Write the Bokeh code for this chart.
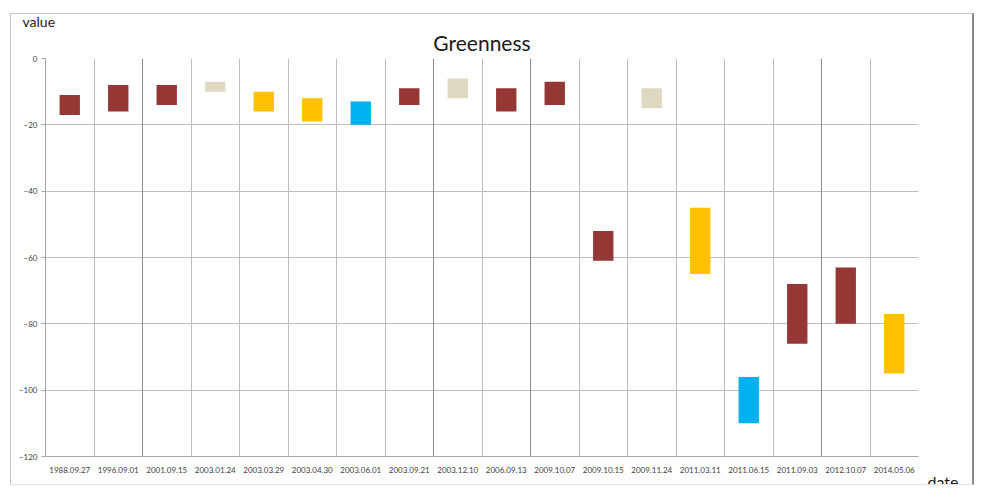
import numpy as np
from bokeh.plotting import figure
from bokeh.models import FixedTicker, Grid, Title, ColumnDataSource, Range1d
from bokeh.embed import file_html
from bokeh.resources import INLINE

dates = ["1988.09.27", "1996.09.01", "2001.09.15", "2003.01.24", "2003.03.29",
         "2003.04.30", "2003.06.01", "2003.09.21", "2003.12.10", "2006.09.13",
         "2009.10.07", "2009.10.15", "2009.11.24", "2011.03.11", "2011.06.15",
         "2011.09.03", "2012.10.07", "2014.05.06"]
top_vals = [-11, -8, -8, -7, -10, -12, -13, -9, -6, -9, -7, -52, -9, -45, -96, -68, -63, -77]
bottom_vals = [-17, -16, -14, -10, -16, -19, -20, -14, -12, -16, -14, -61, -15, -65, -110, -86, -80, -95]
kinds = ["red", "red", "red", "beige", "yellow", "yellow", "blue", "red", "beige", "red",
         "red", "red", "beige", "yellow", "blue", "red", "red", "yellow"]
y_ticks = [-120, -100, -80, -60, -40, -20, 0]

palette = {"red": "#953735", "yellow": "#FFC000", "blue": "#00B0F0", "beige": "#DDD9C3"}

n = len(dates)
centers = np.arange(n) + 0.5
src = ColumnDataSource(dict(x=centers, top=top_vals, bottom=bottom_vals,
                            color=[palette[k] for k in kinds]))

p = figure(width=964, height=472, output_backend="svg", toolbar_location=None,
           title_location=None,
           x_range=Range1d(0, n), y_range=Range1d(-120, 0),
           min_border_left=34, min_border_right=57, min_border_top=44, min_border_bottom=30)
p.styles = {"margin-left": "10px", "margin-top": "13px",
            "border-top": "1px solid #c4c4c4", "border-left": "1px solid #c4c4c4",
            "border-right": "2px solid #8a8a8a", "border-bottom": "1px solid #e4e4e4"}
p.outline_line_color = None

p.vbar(x="x", top="top", bottom="bottom", width=0.42, fill_color="color",
       line_color=None, source=src)

# axes
p.xaxis.ticker = FixedTicker(ticks=list(centers))
p.xaxis.major_label_overrides = {float(c): d for c, d in zip(centers, dates)}
p.xaxis.major_tick_line_color = None
p.xaxis.minor_tick_line_color = None
p.xaxis.axis_line_color = "#a6a6a6"
p.xaxis.major_label_text_font = "Lato"
p.xaxis.major_label_text_font_size = "8px"
p.xaxis.major_label_text_color = "#404040"
p.xaxis.major_label_standoff = 4

p.yaxis.ticker = FixedTicker(ticks=y_ticks)
p.yaxis.axis_line_color = "#a6a6a6"
p.yaxis.major_tick_line_color = "#a6a6a6"
p.yaxis.major_tick_in = 0
p.yaxis.major_tick_out = 4
p.yaxis.minor_tick_line_color = None
p.yaxis.major_label_text_font = "Lato"
p.yaxis.major_label_text_font_size = "8px"
p.yaxis.major_label_text_color = "#404040"
p.yaxis.major_label_standoff = 4

# grids
p.xgrid.ticker = FixedTicker(ticks=list(range(0, n + 1)))
p.xgrid.grid_line_color = "#bdbdbd"
p.ygrid.ticker = FixedTicker(ticks=y_ticks)
p.ygrid.grid_line_color = "#bdbdbd"
p.add_layout(Grid(dimension=0, ticker=FixedTicker(ticks=[2, 8, 10, 16]),
                  grid_line_color="#8c8c8c"))

# texts as titles (inner first, outer last)
p.add_layout(Title(text="Greenness", align="center", standoff=8, text_font="Lato",
                   text_font_size="21px", text_font_style="normal", text_color="#1a1a1a"),
             "above")
p.add_layout(Title(text="value", align="left", offset=-23, standoff=-13, text_font="Lato",
                   text_font_size="14px", text_font_style="normal", text_color="#1a1a1a"),
             "above")
p.add_layout(Title(text="date", align="right", offset=-40, standoff=-11, text_font="Lato",
                   text_font_size="16px", text_font_style="normal", text_color="#1a1a1a"),
             "below")

open("out.html", "w").write(file_html(p, INLINE))
